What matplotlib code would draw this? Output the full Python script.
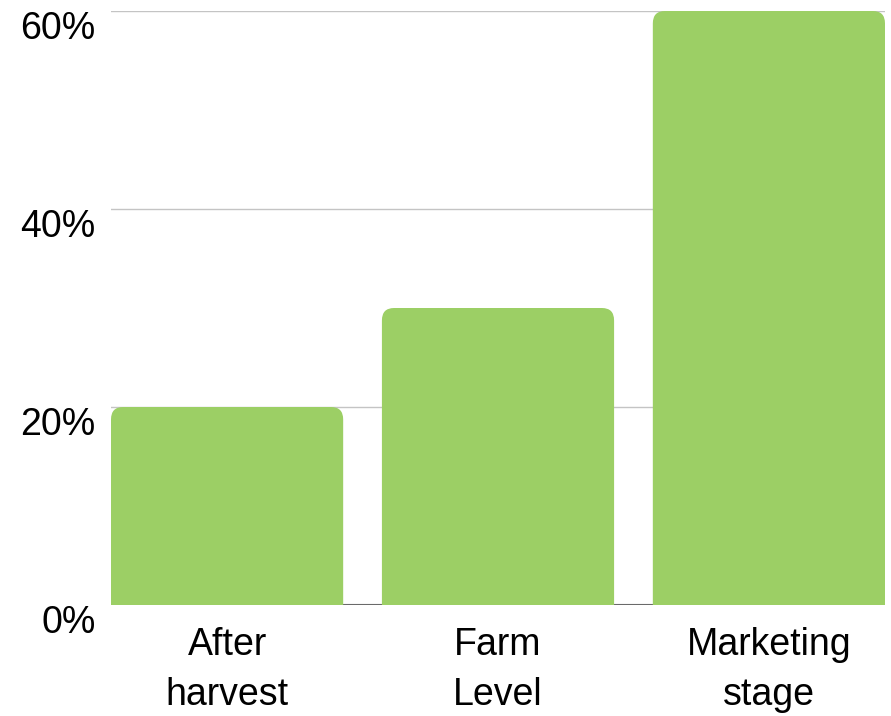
import matplotlib
matplotlib.use('Agg')
import matplotlib.pyplot as plt
from matplotlib.patches import FancyBboxPatch
import numpy as np

categories = ['After\nharvest', 'Farm\nLevel', 'Marketing\nstage']
values = [20, 30, 60]
yticks = [0, 20, 40, 60]
ytick_labels = ['0%', '20%', '40%', '60%']

plt.rcParams['font.family'] = ['Liberation Sans', 'DejaVu Sans']

fig = plt.figure(figsize=[8.91, 7.16], dpi=100)
ax = fig.add_axes([111 / 891, 111 / 716, 774 / 891, 594 / 716])

bar_w = 0.857
green = '#9ccf65'
x = np.arange(len(categories))
bars = ax.bar(x, values, width=bar_w, color=green, zorder=2)

# swap plain rectangles for ones with rounded tops (bottom corners hidden below 0)
r_x = 0.045
r_y = 1.25
for b in bars:
    bx, by, bw, bh = b.get_x(), b.get_y(), b.get_width(), b.get_height()
    b.set_visible(False)
    p = FancyBboxPatch((bx, by - 3 * r_y), bw, bh + 3 * r_y,
                       boxstyle='round,pad=0,rounding_size=%f' % r_x,
                       mutation_aspect=r_y / r_x,
                       facecolor=green, edgecolor='none', zorder=2)
    ax.add_patch(p)

ax.set_xlim(-bar_w / 2, len(categories) - 1 + bar_w / 2)
ax.set_ylim(0, 60)

ax.set_yticks(yticks)
ax.set_yticklabels(ytick_labels, fontsize=27)
for lab in ax.get_yticklabels():
    lab.set_verticalalignment('top')
ax.tick_params(axis='y', length=0, pad=11)

ax.set_xticks(x)
ax.set_xticklabels(categories, fontsize=27, linespacing=1.5)
ax.tick_params(axis='x', length=0, pad=16)

ax.grid(axis='y', color='#c4c4c4', linewidth=1, zorder=0)
ax.axhline(0, color='#555555', linewidth=1.5, zorder=1)
for s in ax.spines.values():
    s.set_visible(False)

fig.savefig('out.png', dpi=100)
